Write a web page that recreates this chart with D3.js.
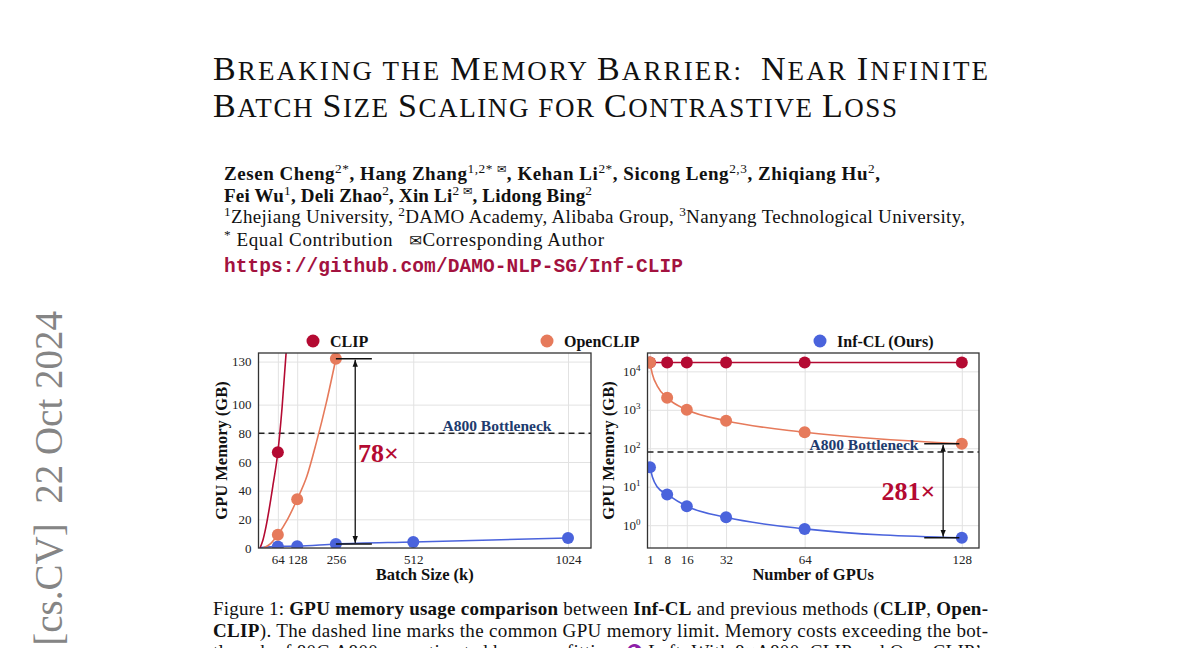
<!DOCTYPE html>
<html>
<head>
<meta charset="utf-8">
<script src="https://cdn.jsdelivr.net/npm/d3@7.9.0/dist/d3.min.js"></script>
<style>
  html, body { margin: 0; padding: 0; background: #fff; }
  svg { display: block; font-family: 'Liberation Serif', 'Times New Roman', serif; }
</style>
</head>
<body>
<svg id="page" width="1200" height="648"></svg>
<script>
// ---------- data ----------
const batchTicks = [64, 128, 256, 512, 1024];
const memTicks = [0, 20, 40, 60, 80, 100, 130];
const gpuTicks = [1, 8, 16, 32, 64, 128];
const logTicks = [1, 10, 100, 1000, 10000];
const bottleneck = 80;

// left panel: GPU memory (GB) vs batch size (k)
const clipBatch = [64];
const clipMem = [66.8];
const openBatch = [64, 128, 256];
const openMem = [9.3, 34, 132];
const infBatch = [64, 128, 256, 512, 1024];
const infMem = [1.1, 1.3, 2.8, 4.2, 7.0];

// fitted curves
const clipFitBatch = [5, 14, 24, 36, 48, 64, 78, 92];
const clipFitMem = [0, 5, 14, 28, 44, 66.8, 98, 138];
const openFitBatch = [16, 40, 64, 96, 128, 160, 192, 224, 256];
const openFitMem = [0, 3, 9.3, 20, 34, 50, 74, 101, 132];
const infFitBatch = [4, 64, 128, 256, 512, 1024];
const infFitMem = [0.2, 1.1, 1.3, 2.8, 4.2, 7.0];

// right panel: GPU memory (GB) vs number of GPUs
const gpus = [1, 8, 16, 32, 64, 128];
const clipGpuMem = [17000, 17000, 17000, 17000, 17000, 17000];
const openGpuMem = [17000, 2050, 1000, 520, 260, 131];
const infGpuMem = [32, 6.3, 3.1, 1.6, 0.8, 0.47];
const openFitGpu = [1, 2, 4, 8, 16, 32, 64, 128];
const openFitGpuMem = [17000, 8400, 4150, 2050, 1000, 520, 260, 131];
const infFitGpu = [1, 2, 4, 8, 16, 32, 64, 128];
const infFitGpuMem = [32, 18, 9.8, 6.3, 3.1, 1.6, 0.8, 0.47];

const clipColor = '#b40a32';
const openColor = '#e67a5b';
const infColor = '#4a63dc';
const navy = '#1d3b6e';
const gridColor = '#e2e2e2';

const zip = (xs, ys) => xs.map((x, i) => [x, ys[i]]);

const svg = d3.select('#page');
const defs = svg.append('defs');

defs.append('marker')
  .attr('id', 'arrow')
  .attr('viewBox', '0 0 10 10')
  .attr('refX', 10).attr('refY', 5)
  .attr('markerUnits', 'userSpaceOnUse')
  .attr('markerWidth', 7).attr('markerHeight', 7)
  .attr('orient', 'auto-start-reverse')
  .append('path').attr('d', 'M0,1.2 L10,5 L0,8.8 z').attr('fill', '#111');

// ---------- rich text helper ----------
function addRich(x, y, segs, o) {
  const t = svg.append('text')
    .attr('x', x).attr('y', y)
    .attr('font-size', o.size)
    .attr('fill', o.fill || '#111')
    .attr('xml:space', 'preserve');
  if (o.width) t.attr('textLength', o.width).attr('lengthAdjust', 'spacing');
  let shift = 0;
  segs.forEach(([str, st]) => {
    const sup = st.includes('s') || st === 'e';
    const target = sup ? -o.size * 0.38 : 0;
    const ts = t.append('tspan').text(str).attr('dy', target - shift);
    shift = target;
    if (st.includes('b')) ts.attr('font-weight', 'bold');
    if (sup) ts.attr('font-size', o.size * 0.7);
    if (st === 'e' || st === 'm') ts.attr('font-family', 'DejaVu Sans').attr('font-size', o.size * (st === 'e' ? 0.6 : 0.8));
    if (st === 'c') ts.attr('font-family', 'DejaVu Sans').attr('fill', '#8e1fa8');
  });
  return t;
}

function smallCaps(str, big, small) {
  const segs = [];
  for (const ch of str) {
    const isBig = ch !== ch.toLowerCase();
    const size = isBig ? big : small;
    const last = segs[segs.length - 1];
    if (last && last.size === size) last.t += ch.toUpperCase();
    else segs.push({ t: ch.toUpperCase(), size });
  }
  return segs;
}

function addTitle(x, y, str, width) {
  const t = svg.append('text')
    .attr('x', x).attr('y', y)
    .attr('fill', '#111')
    .attr('xml:space', 'preserve')
    .attr('textLength', width).attr('lengthAdjust', 'spacing');
  smallCaps(str, 34, 27).forEach(s => t.append('tspan').attr('font-size', s.size).text(s.t));
}

// ---------- page text ----------
addTitle(213, 80, 'Breaking the Memory Barrier:  Near Infinite', 775);
addTitle(213, 117, 'Batch Size Scaling for Contrastive Loss', 684);

addRich(224, 180, [['Zesen Cheng', 'b'], ['2*', 's'], [', Hang Zhang', 'b'], ['1,2* ', 's'], ['✉', 'e'],
  [', Kehan Li', 'b'], ['2*', 's'], [', Sicong Leng', 'b'], ['2,3', 's'], [', Zhiqiang Hu', 'b'], ['2', 's'], [',', 'b']],
  { size: 19, width: 656 });
addRich(224, 202, [['Fei Wu', 'b'], ['1', 's'], [', Deli Zhao', 'b'], ['2', 's'], [', Xin Li', 'b'], ['2 ', 's'], ['✉', 'e'],
  [', Lidong Bing', 'b'], ['2', 's']], { size: 19, width: 368 });
addRich(224, 223, [['1', 's'], ['Zhejiang University, ', ''], ['2', 's'], ['DAMO Academy, Alibaba Group, ', ''],
  ['3', 's'], ['Nanyang Technological University,', '']], { size: 19, width: 741 });
addRich(224, 246, [['*', 's'], [' Equal Contribution   ', ''], ['✉', 'm'], ['Corresponding Author', '']],
  { size: 19, width: 380 });
svg.append('text')
  .attr('x', 224).attr('y', 272)
  .attr('font-family', 'Liberation Mono, monospace')
  .attr('font-size', 19.5)
  .attr('font-weight', 'bold')
  .attr('fill', '#a3123f')
  .attr('textLength', 459).attr('lengthAdjust', 'spacing')
  .text('https://github.com/DAMO-NLP-SG/Inf-CLIP');

// arXiv stamp (runs off the bottom edge, as on the page)
svg.append('text')
  .attr('transform', 'translate(62,311) rotate(-90)')
  .attr('text-anchor', 'end')
  .attr('font-size', 39)
  .attr('fill', '#858585')
  .attr('xml:space', 'preserve')
  .text('arXiv:2410.17243v1  [cs.CV]  22 Oct 2024');

// caption
addRich(213, 615, [['Figure 1: ', ''], ['GPU memory usage comparison', 'b'], [' between ', ''], ['Inf-CL', 'b'],
  [' and previous methods (', ''], ['CLIP', 'b'], [', ', ''], ['Open-', 'b']], { size: 19, width: 775 });
addRich(213, 636.5, [['CLIP', 'b'], ['). The dashed line marks the common GPU memory limit. Memory costs exceeding the bot-', '']],
  { size: 19, width: 775 });
addRich(213, 658, [['tleneck of 80G A800 are estimated by curve fitting. ', ''], ['❶', 'c'],
  [' Left: With 8×A800, CLIP and OpenCLIP’s', '']], { size: 19, width: 775 });

// ---------- legend ----------
const legend = [
  { name: 'CLIP', color: clipColor, x: 313 },
  { name: 'OpenCLIP', color: openColor, x: 547 },
  { name: 'Inf-CL (Ours)', color: infColor, x: 820 },
];
const lg = svg.append('g');
legend.forEach(d => {
  lg.append('circle').attr('cx', d.x).attr('cy', 341).attr('r', 6.5).attr('fill', d.color);
  lg.append('text').attr('x', d.x + 17).attr('y', 346.5)
    .attr('font-size', 16).attr('font-weight', 'bold').attr('fill', '#111').text(d.name);
});

// ---------- panel helpers ----------
function panel(id, box, x, y, xTicks, yTicks, yFormat) {
  const g = svg.append('g');
  defs.append('clipPath').attr('id', id)
    .append('rect').attr('x', box.left).attr('y', box.top)
    .attr('width', box.right - box.left).attr('height', box.bottom - box.top);

  g.append('g').attr('transform', `translate(0,${box.bottom})`)
    .call(d3.axisBottom(x).tickValues(xTicks).tickSize(-(box.bottom - box.top)).tickFormat(''))
    .call(s => s.select('.domain').remove())
    .selectAll('line').attr('stroke', gridColor).attr('stroke-width', 1);
  g.append('g').attr('transform', `translate(${box.left},0)`)
    .call(d3.axisLeft(y).tickValues(yTicks).tickSize(-(box.right - box.left)).tickFormat(''))
    .call(s => s.select('.domain').remove())
    .selectAll('line').attr('stroke', gridColor).attr('stroke-width', 1);

  const xa = g.append('g').attr('transform', `translate(0,${box.bottom})`)
    .call(d3.axisBottom(x).tickValues(xTicks).tickSize(0).tickPadding(7).tickFormat(d => d));
  const ya = g.append('g').attr('transform', `translate(${box.left},0)`)
    .call(d3.axisLeft(y).tickValues(yTicks).tickSize(0).tickPadding(7).tickFormat(yFormat || (d => d)));
  [xa, ya].forEach(a => {
    a.select('.domain').remove();
    a.selectAll('text').attr('font-family', 'Liberation Serif').attr('font-size', 13).attr('fill', '#222');
  });

  const plot = g.append('g').attr('clip-path', `url(#${id})`);
  plot.append('line')
    .attr('x1', box.left).attr('x2', box.right)
    .attr('y1', y(bottleneck)).attr('y2', y(bottleneck))
    .attr('stroke', '#222').attr('stroke-width', 1.6).attr('stroke-dasharray', '6,4');
  return { g, plot, xa, ya };
}

function series(plot, x, y, fit, pts, color) {
  const line = d3.line().x(d => x(d[0])).y(d => y(d[1])).curve(d3.curveMonotoneX);
  plot.append('path').datum(fit)
    .attr('d', line).attr('fill', 'none')
    .attr('stroke', color).attr('stroke-width', 1.6);
  plot.selectAll(null).data(pts).join('circle')
    .attr('cx', d => x(d[0])).attr('cy', d => y(d[1]))
    .attr('r', 6).attr('fill', color);
}

function frame(g, box) {
  g.append('rect')
    .attr('x', box.left).attr('y', box.top)
    .attr('width', box.right - box.left).attr('height', box.bottom - box.top)
    .attr('fill', 'none').attr('stroke', '#333').attr('stroke-width', 1.3);
}

function bracketArrow(g, x, y, xArrow, xFrom, xTo, yTop, yBot) {
  [yTop, yBot].forEach(v => g.append('line')
    .attr('x1', x(xFrom)).attr('x2', x(xTo)).attr('y1', y(v)).attr('y2', y(v))
    .attr('stroke', '#111').attr('stroke-width', 1.6));
  g.append('line')
    .attr('x1', x(xArrow)).attr('x2', x(xArrow))
    .attr('y1', y(yTop) + 1).attr('y2', y(yBot) - 1)
    .attr('stroke', '#111').attr('stroke-width', 1.3)
    .attr('marker-start', 'url(#arrow)').attr('marker-end', 'url(#arrow)');
}

function labels(box, xText, yText, yx) {
  svg.append('text')
    .attr('x', (box.left + box.right) / 2).attr('y', 580)
    .attr('text-anchor', 'middle').attr('font-size', 16.5).attr('font-weight', 'bold').attr('fill', '#111')
    .text(xText);
  svg.append('text')
    .attr('transform', `translate(${yx},${(box.top + box.bottom) / 2}) rotate(-90)`)
    .attr('text-anchor', 'middle').attr('font-size', 16.5).attr('font-weight', 'bold').attr('fill', '#111')
    .text(yText);
}

// ---------- left panel ----------
const boxL = { left: 258.5, right: 591, top: 353, bottom: 548 };
const xL = d3.scaleLinear().domain([0, 1100]).range([boxL.left, boxL.right]);
const yL = d3.scaleLinear().domain([0, 136]).range([boxL.bottom, boxL.top]);
const pL = panel('clipL', boxL, xL, yL, batchTicks, memTicks);

series(pL.plot, xL, yL, zip(infFitBatch, infFitMem), zip(infBatch, infMem), infColor);
series(pL.plot, xL, yL, zip(openFitBatch, openFitMem), zip(openBatch, openMem), openColor);
series(pL.plot, xL, yL, zip(clipFitBatch, clipFitMem), zip(clipBatch, clipMem), clipColor);
frame(pL.g, boxL);

pL.g.append('text')
  .attr('x', 497).attr('y', yL(bottleneck) - 2)
  .attr('text-anchor', 'middle').attr('font-size', 15.5).attr('font-weight', 'bold').attr('fill', navy)
  .text('A800 Bottleneck');
bracketArrow(pL.g, xL, yL, 320, 256, 375, openMem[2], infMem[2]);
pL.g.append('text').attr('x', 358).attr('y', 461.5)
  .attr('font-size', 26).attr('font-weight', 'bold').attr('fill', clipColor).text('78×');
labels(boxL, 'Batch Size (k)', 'GPU Memory (GB)', 227);

// ---------- right panel ----------
const boxR = { left: 647.5, right: 979, top: 353, bottom: 548 };
const xR = d3.scaleLinear().domain([0, 135]).range([boxR.left, boxR.right]);
const yR = d3.scaleLog().domain([0.255, 30000]).range([boxR.bottom, boxR.top]);
const pR = panel('clipR', boxR, xR, yR, gpuTicks, logTicks);

// superscript exponents on the log ticks
pR.ya.selectAll('.tick text').each(function (d) {
  const t = d3.select(this).text('10');
  t.append('tspan').attr('dy', -5).attr('font-size', 9).text(Math.round(Math.log10(d)));
});

series(pR.plot, xR, yR, zip(gpus, clipGpuMem), zip(gpus, clipGpuMem), clipColor);
series(pR.plot, xR, yR, zip(openFitGpu, openFitGpuMem), zip(gpus, openGpuMem), openColor);
series(pR.plot, xR, yR, zip(infFitGpu, infFitGpuMem), zip(gpus, infGpuMem), infColor);
frame(pR.g, boxR);

pR.g.append('text')
  .attr('x', 864).attr('y', yR(bottleneck) - 1.5)
  .attr('text-anchor', 'middle').attr('font-size', 15.5).attr('font-weight', 'bold').attr('fill', navy)
  .text('A800 Bottleneck');
bracketArrow(pR.g, xR, yR, 120.4, 112.7, 127, openGpuMem[5], infGpuMem[5]);
pR.g.append('text').attr('x', 881.5).attr('y', 500)
  .attr('font-size', 26).attr('font-weight', 'bold').attr('fill', clipColor).text('281×');
labels(boxR, 'Number of GPUs', 'GPU Memory (GB)', 614);
</script>
</body>
</html>
